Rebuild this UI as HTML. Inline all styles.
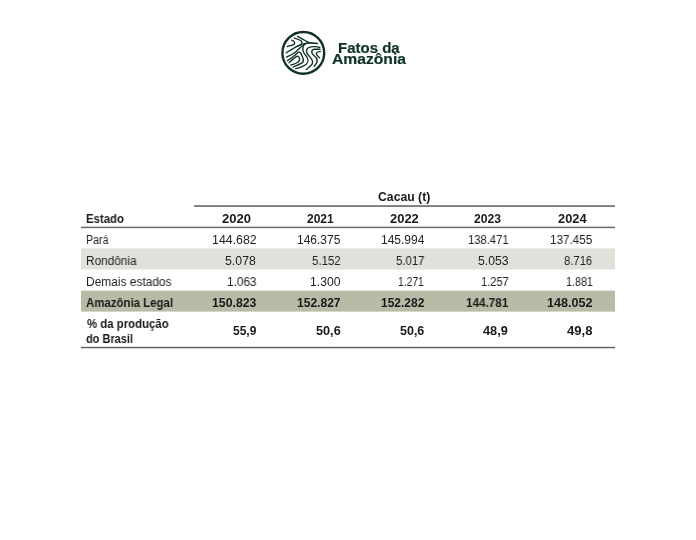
<!DOCTYPE html>
<html><head><meta charset="utf-8"><style>
html,body{margin:0;padding:0;background:#fff;width:696px;height:540px;overflow:hidden;position:relative}
</style></head><body>
<div style="position:absolute;left:81px;top:248px;width:533.5px;height:1px;background:#eeece9"></div><div style="position:absolute;left:81px;top:249px;width:533.5px;height:20px;background:#e2e0da"></div><div style="position:absolute;left:81px;top:269px;width:533.5px;height:1px;background:#f0efec"></div><div style="position:absolute;left:81px;top:290px;width:533.5px;height:1px;background:#e3e4db"></div><div style="position:absolute;left:81px;top:291px;width:533.5px;height:20px;background:#b8bba6"></div><div style="position:absolute;left:81px;top:311px;width:533.5px;height:1px;background:#d4d6ca"></div><div style="position:absolute;left:194px;top:205px;width:421px;height:1px;background:#8c8c8c"></div><div style="position:absolute;left:194px;top:206px;width:421px;height:1px;background:#7a7a7a"></div><div style="position:absolute;left:81px;top:226px;width:533.5px;height:1px;background:#cccccc"></div><div style="position:absolute;left:81px;top:227px;width:533.5px;height:1px;background:#6a6a6a"></div><div style="position:absolute;left:81px;top:228px;width:533.5px;height:1px;background:#e8e8e8"></div><div style="position:absolute;left:81px;top:346px;width:533.5px;height:1px;background:#e2e2e2"></div><div style="position:absolute;left:81px;top:347px;width:533.5px;height:1px;background:#5c5c5c"></div><div style="position:absolute;left:81px;top:348px;width:533.5px;height:1px;background:#d6d6d6"></div><div style="position:absolute;left:378.39px;top:191.13px;font:700 12px/12px 'Liberation Sans', sans-serif;color:#1a1a1a;white-space:nowrap;transform-origin:0 0;transform:scaleX(1.0189);will-change:transform">Cacau (t)</div><div style="position:absolute;left:86.09px;top:212.53px;font:700 12px/12px 'Liberation Sans', sans-serif;color:#1a1a1a;white-space:nowrap;transform-origin:0 0;transform:scaleX(0.9471);will-change:transform">Estado</div><div style="position:absolute;left:221.89px;top:212.53px;font:700 12px/12px 'Liberation Sans', sans-serif;color:#1a1a1a;white-space:nowrap;transform-origin:0 0;transform:scaleX(1.0860);will-change:transform">2020</div><div style="position:absolute;left:307.33px;top:212.53px;font:700 12px/12px 'Liberation Sans', sans-serif;color:#1a1a1a;white-space:nowrap;transform-origin:0 0;transform:scaleX(0.9846);will-change:transform">2021</div><div style="position:absolute;left:390.40px;top:212.53px;font:700 12px/12px 'Liberation Sans', sans-serif;color:#1a1a1a;white-space:nowrap;transform-origin:0 0;transform:scaleX(1.0783);will-change:transform">2022</div><div style="position:absolute;left:474.22px;top:212.53px;font:700 12px/12px 'Liberation Sans', sans-serif;color:#1a1a1a;white-space:nowrap;transform-origin:0 0;transform:scaleX(1.0126);will-change:transform">2023</div><div style="position:absolute;left:558.10px;top:212.53px;font:700 12px/12px 'Liberation Sans', sans-serif;color:#1a1a1a;white-space:nowrap;transform-origin:0 0;transform:scaleX(1.0705);will-change:transform">2024</div><div style="position:absolute;left:85.91px;top:234.03px;font:400 12px/12px 'Liberation Sans', sans-serif;color:#222222;white-space:nowrap;transform-origin:0 0;transform:scaleX(0.8862);will-change:transform">Pará</div><div style="position:absolute;left:85.82px;top:255.03px;font:400 12px/12px 'Liberation Sans', sans-serif;color:#222222;white-space:nowrap;transform-origin:0 0;transform:scaleX(0.9846);will-change:transform">Rondônia</div><div style="position:absolute;left:85.81px;top:276.03px;font:400 12px/12px 'Liberation Sans', sans-serif;color:#222222;white-space:nowrap;transform-origin:0 0;transform:scaleX(0.9938);will-change:transform">Demais estados</div><div style="position:absolute;left:86.44px;top:297.03px;font:700 12px/12px 'Liberation Sans', sans-serif;color:#1a1a1a;white-space:nowrap;transform-origin:0 0;transform:scaleX(0.9531);will-change:transform">Amazônia Legal</div><div style="position:absolute;left:86.56px;top:318.03px;font:700 12px/12px 'Liberation Sans', sans-serif;color:#1a1a1a;white-space:nowrap;transform-origin:0 0;transform:scaleX(0.9490);will-change:transform">% da produção</div><div style="position:absolute;left:86.34px;top:333.03px;font:700 12px/12px 'Liberation Sans', sans-serif;color:#1a1a1a;white-space:nowrap;transform-origin:0 0;transform:scaleX(0.9140);will-change:transform">do Brasil</div><div style="position:absolute;left:211.60px;top:234.03px;font:400 12px/12px 'Liberation Sans', sans-serif;color:#222222;white-space:nowrap;transform-origin:0 0;transform:scaleX(1.0316);will-change:transform">144.682</div><div style="position:absolute;left:297.23px;top:234.03px;font:400 12px/12px 'Liberation Sans', sans-serif;color:#222222;white-space:nowrap;transform-origin:0 0;transform:scaleX(0.9905);will-change:transform">146.375</div><div style="position:absolute;left:381.03px;top:234.03px;font:400 12px/12px 'Liberation Sans', sans-serif;color:#222222;white-space:nowrap;transform-origin:0 0;transform:scaleX(0.9923);will-change:transform">145.994</div><div style="position:absolute;left:467.68px;top:234.03px;font:400 12px/12px 'Liberation Sans', sans-serif;color:#222222;white-space:nowrap;transform-origin:0 0;transform:scaleX(0.9361);will-change:transform">138.471</div><div style="position:absolute;left:550.15px;top:234.03px;font:400 12px/12px 'Liberation Sans', sans-serif;color:#222222;white-space:nowrap;transform-origin:0 0;transform:scaleX(0.9738);will-change:transform">137.455</div><div style="position:absolute;left:225.39px;top:255.03px;font:400 12px/12px 'Liberation Sans', sans-serif;color:#222222;white-space:nowrap;transform-origin:0 0;transform:scaleX(1.0276);will-change:transform">5.078</div><div style="position:absolute;left:311.62px;top:255.03px;font:400 12px/12px 'Liberation Sans', sans-serif;color:#222222;white-space:nowrap;transform-origin:0 0;transform:scaleX(0.9558);will-change:transform">5.152</div><div style="position:absolute;left:395.83px;top:255.03px;font:400 12px/12px 'Liberation Sans', sans-serif;color:#222222;white-space:nowrap;transform-origin:0 0;transform:scaleX(0.9489);will-change:transform">5.017</div><div style="position:absolute;left:477.59px;top:255.03px;font:400 12px/12px 'Liberation Sans', sans-serif;color:#222222;white-space:nowrap;transform-origin:0 0;transform:scaleX(1.0207);will-change:transform">5.053</div><div style="position:absolute;left:564.23px;top:255.03px;font:400 12px/12px 'Liberation Sans', sans-serif;color:#222222;white-space:nowrap;transform-origin:0 0;transform:scaleX(0.9379);will-change:transform">8.716</div><div style="position:absolute;left:226.74px;top:276.03px;font:400 12px/12px 'Liberation Sans', sans-serif;color:#222222;white-space:nowrap;transform-origin:0 0;transform:scaleX(0.9817);will-change:transform">1.063</div><div style="position:absolute;left:309.81px;top:276.03px;font:400 12px/12px 'Liberation Sans', sans-serif;color:#222222;white-space:nowrap;transform-origin:0 0;transform:scaleX(1.0131);will-change:transform">1.300</div><div style="position:absolute;left:398.45px;top:276.03px;font:400 12px/12px 'Liberation Sans', sans-serif;color:#222222;white-space:nowrap;transform-origin:0 0;transform:scaleX(0.8596);will-change:transform">1.271</div><div style="position:absolute;left:480.59px;top:276.03px;font:400 12px/12px 'Liberation Sans', sans-serif;color:#222222;white-space:nowrap;transform-origin:0 0;transform:scaleX(0.9228);will-change:transform">1.257</div><div style="position:absolute;left:565.51px;top:276.03px;font:400 12px/12px 'Liberation Sans', sans-serif;color:#222222;white-space:nowrap;transform-origin:0 0;transform:scaleX(0.8982);will-change:transform">1.881</div><div style="position:absolute;left:211.73px;top:297.03px;font:700 12px/12px 'Liberation Sans', sans-serif;color:#1a1a1a;white-space:nowrap;transform-origin:0 0;transform:scaleX(1.0225);will-change:transform">150.823</div><div style="position:absolute;left:296.65px;top:297.03px;font:700 12px/12px 'Liberation Sans', sans-serif;color:#1a1a1a;white-space:nowrap;transform-origin:0 0;transform:scaleX(1.0042);will-change:transform">152.827</div><div style="position:absolute;left:381.16px;top:297.03px;font:700 12px/12px 'Liberation Sans', sans-serif;color:#1a1a1a;white-space:nowrap;transform-origin:0 0;transform:scaleX(0.9923);will-change:transform">152.282</div><div style="position:absolute;left:465.77px;top:297.03px;font:700 12px/12px 'Liberation Sans', sans-serif;color:#1a1a1a;white-space:nowrap;transform-origin:0 0;transform:scaleX(0.9751);will-change:transform">144.781</div><div style="position:absolute;left:546.81px;top:297.03px;font:700 12px/12px 'Liberation Sans', sans-serif;color:#1a1a1a;white-space:nowrap;transform-origin:0 0;transform:scaleX(1.0516);will-change:transform">148.052</div><div style="position:absolute;left:232.83px;top:325.03px;font:700 12px/12px 'Liberation Sans', sans-serif;color:#1a1a1a;white-space:nowrap;transform-origin:0 0;transform:scaleX(1.0000);will-change:transform">55,9</div><div style="position:absolute;left:315.50px;top:325.03px;font:700 12px/12px 'Liberation Sans', sans-serif;color:#1a1a1a;white-space:nowrap;transform-origin:0 0;transform:scaleX(1.0578);will-change:transform">50,6</div><div style="position:absolute;left:399.91px;top:325.03px;font:700 12px/12px 'Liberation Sans', sans-serif;color:#1a1a1a;white-space:nowrap;transform-origin:0 0;transform:scaleX(1.0400);will-change:transform">50,6</div><div style="position:absolute;left:483.47px;top:325.03px;font:700 12px/12px 'Liberation Sans', sans-serif;color:#1a1a1a;white-space:nowrap;transform-origin:0 0;transform:scaleX(1.0593);will-change:transform">48,9</div><div style="position:absolute;left:566.86px;top:325.03px;font:700 12px/12px 'Liberation Sans', sans-serif;color:#1a1a1a;white-space:nowrap;transform-origin:0 0;transform:scaleX(1.0885);will-change:transform">49,8</div><div style="position:absolute;left:338.20px;top:40.24px;font:700 15px/15px 'Liberation Sans', sans-serif;color:#0f3224;-webkit-text-stroke:0.2px #0f3224;white-space:nowrap;transform-origin:0 0;transform:scaleX(0.9992);will-change:transform">Fatos da</div><div style="position:absolute;left:331.91px;top:50.94px;font:700 15px/15px 'Liberation Sans', sans-serif;color:#0f3224;-webkit-text-stroke:0.2px #0f3224;white-space:nowrap;transform-origin:0 0;transform:scaleX(1.0440);will-change:transform">Amazônia</div><svg style="position:absolute;left:278px;top:28px" width="52" height="52" viewBox="278 28 52 52" fill="none" stroke="#0f3224" stroke-linecap="round" stroke-linejoin="round">
<circle cx="303.3" cy="52.9" r="20.9" stroke-width="2.4"/>
<g stroke-width="1.35">
<path d="M297.5,36.4 C301,38.2 305,40.5 308.8,42.6 C311,43.2 314,43.4 317.6,43.5"/>
<path d="M291.6,40.2 C292.8,40.6 294,41.2 294.5,42.2 C295,43.5 294.2,44.5 293,44.9 C291,45.6 289,46 287.4,46.5"/>
<path d="M294.3,38.2 C297,38.9 300,40 301.3,41 C302.3,42 302,43.5 300.7,44.5 C299.8,45.2 298.8,45.6 297.5,46.2"/>
<path d="M286.2,52.9 C289.5,50.8 293,48.4 297,46.3 C300.5,44.5 304.5,43.2 308.8,42.6"/>
<path d="M286.4,57.1 C289.5,55.8 292.5,54.4 295.3,52.2 C298.5,49.5 300.5,47 303.9,44.8 C305.5,43.8 307,43.2 308.8,42.6"/>
<path d="M303.9,45 C302.3,48 302.5,52 305.8,55.5 C308.5,58.5 308.6,62 306.5,64 C304.5,65.8 300,67.5 295.8,68.7"/>
<path d="M319.7,47.5 C316,46.2 310,46.4 307.6,48.3 C305.8,50 306.2,53 308.6,55.5 C311.5,58.3 313.2,60.5 312.5,63 C311.8,65.5 308,68 306.2,69.6"/>
<path d="M320,49.2 L314.1,49.2 C312.5,49.4 311.6,50.8 311.8,52.6 C312.2,54.5 314.5,55.8 316,57.5 C317.5,59.3 317.2,61.5 316.6,63 L314.2,66.4"/>
<path d="M320.4,51.6 C318.5,51.6 316.5,52 316.2,53.6 C316.2,55 317.5,55.8 319.6,57.8"/>
<path d="M287.3,60.6 C290.5,59 293.5,57 297.1,53.2 C298.3,52 299.8,51.8 300.7,53 C301.5,54 302.3,56.8 303.1,58.7 C303.8,60.5 303.2,62 302,62.9 C300.5,64 296,65.8 293.3,67.1"/>
<path d="M289.1,62.7 C291,61 294.5,57.8 296.9,56.4 C298.2,55.9 299.3,56.9 299.6,58.6 C299.8,60.2 299.2,61.5 297.5,62.5 C295.5,63.7 292.5,64.6 290.9,65.1"/>
</g>
<path d="M307.5,42 L317.6,43.1 L317.6,43.9 L308,43.6 Z" fill="#0f3224" stroke="none"/>
</svg>

</body></html>
